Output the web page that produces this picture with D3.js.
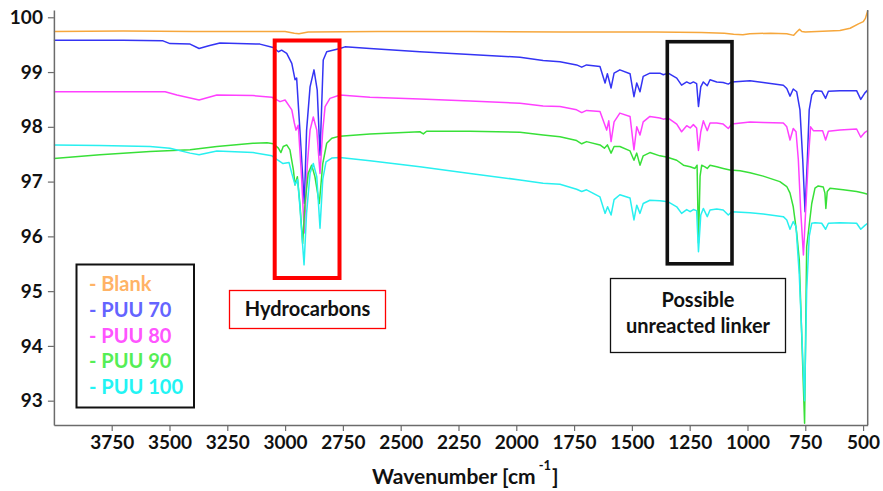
<!DOCTYPE html>
<html>
<head>
<meta charset="utf-8">
<script src="https://cdn.jsdelivr.net/npm/d3@7"></script>
<style>
  html, body { margin: 0; padding: 0; background: #fff; }
  svg { display: block; }
  text { font-family: Lato, "Open Sans", "Liberation Sans", sans-serif; font-weight: 700; }
</style>
</head>
<body>
<svg id="chart" width="883" height="491"></svg>
<script>
// ---- Data (wavenumber cm-1, transmittance %) ----
const seriesNames = ["Blank", "PUU 70", "PUU 80", "PUU 90", "PUU 100"];
const lineColors = ["#f6a73c", "#3434f4", "#ff40ff", "#38e038", "#28f0f0"];
const legendColors = ["#ffb366", "#6464ff", "#ff55ff", "#55ee55", "#22f4f4"];

const blank = [[4000,99.74],[3700,99.75],[3400,99.74],[3100,99.74],[3000,99.74],[2960,99.71],[2940,99.70],[2900,99.73],[2600,99.74],[2200,99.74],[1800,99.73],[1400,99.73],[1200,99.72],[1100,99.71],[1060,99.69],[1020,99.68],[990,99.70],[900,99.71],[830,99.70],[800,99.67],[785,99.74],[775,99.78],[765,99.74],[750,99.73],[700,99.74],[600,99.76],[556,99.80],[520,99.88],[499,99.92],[490,99.98],[480,100.12]];

const puu70 = [[4000,99.58],[3700,99.58],[3528,99.57],[3498,99.52],[3411,99.51],[3372,99.43],[3330,99.48],[3282,99.53],[3109,99.51],[3052,99.45],[3029,99.37],[3015,99.40],[2993,99.34],[2971,99.16],[2957,98.86],[2950,98.89],[2936,97.94],[2917,96.60],[2907,97.94],[2892,98.73],[2875,99.04],[2861,98.67],[2849,97.48],[2835,99.22],[2820,99.37],[2763,99.43],[2741,99.46],[2633,99.43],[2417,99.37],[2200,99.32],[1984,99.27],[1884,99.21],[1811,99.19],[1739,99.13],[1717,99.09],[1696,99.13],[1638,99.10],[1616,98.80],[1606,98.97],[1590,98.71],[1577,98.98],[1552,99.04],[1508,98.97],[1491,98.55],[1479,98.80],[1465,98.64],[1451,98.92],[1422,98.98],[1379,98.98],[1364,98.95],[1343,98.98],[1306,98.89],[1285,98.76],[1263,98.82],[1248,98.79],[1234,98.82],[1220,98.79],[1212,98.37],[1202,98.73],[1191,98.82],[1174,98.75],[1162,98.86],[1133,98.82],[1105,98.81],[1083,98.78],[1068,98.82],[989,98.84],[932,98.81],[845,98.76],[830,98.70],[816,98.56],[802,98.69],[787,98.64],[773,98.31],[761,97.40],[751,96.45],[741,97.40],[733,98.31],[722,98.58],[708,98.66],[679,98.65],[662,98.52],[650,98.65],[600,98.66],[528,98.66],[510,98.50],[492,98.62],[480,98.67]];

const puu80 = [[4000,98.64],[3700,98.64],[3519,98.64],[3468,98.58],[3372,98.49],[3295,98.58],[3139,98.57],[3057,98.54],[3022,98.46],[3000,98.49],[2971,98.31],[2960,98.07],[2953,97.94],[2943,98.03],[2928,97.03],[2917,96.06],[2904,97.30],[2892,97.94],[2878,98.18],[2863,97.94],[2849,97.15],[2837,97.94],[2827,98.37],[2806,98.52],[2763,98.58],[2633,98.54],[2417,98.51],[2200,98.47],[1984,98.43],[1884,98.38],[1811,98.37],[1739,98.31],[1717,98.26],[1696,98.30],[1638,98.28],[1609,97.94],[1600,98.11],[1590,97.73],[1577,98.09],[1552,98.25],[1508,98.19],[1491,97.58],[1479,98.00],[1465,97.85],[1451,98.09],[1422,98.19],[1379,98.16],[1364,98.14],[1343,98.16],[1306,98.05],[1285,97.91],[1263,98.02],[1248,97.98],[1234,98.04],[1220,97.98],[1212,97.57],[1202,97.91],[1191,98.11],[1174,97.93],[1162,98.07],[1133,98.07],[1105,98.05],[1083,97.97],[1068,98.05],[989,98.09],[932,98.08],[845,98.07],[830,98.00],[816,97.76],[802,97.97],[790,97.91],[780,97.40],[770,96.48],[758,95.66],[748,96.50],[737,97.40],[727,98.00],[715,97.93],[701,97.93],[675,97.93],[662,97.76],[650,97.92],[600,97.94],[528,97.96],[510,97.81],[492,97.90],[480,97.93]];

const puu90 = [[4000,97.42],[3801,97.49],[3584,97.55],[3411,97.58],[3295,97.64],[3139,97.70],[3078,97.71],[3051,97.69],[3029,97.61],[3018,97.53],[3008,97.64],[2993,97.67],[2979,97.58],[2964,97.21],[2957,96.94],[2947,97.09],[2936,96.60],[2924,95.87],[2914,96.60],[2900,97.15],[2885,97.30],[2871,97.09],[2852,96.60],[2837,97.33],[2820,97.70],[2798,97.79],[2763,97.83],[2633,97.87],[2417,97.91],[2402,97.87],[2388,97.92],[2200,97.92],[1984,97.90],[1884,97.85],[1811,97.82],[1739,97.75],[1717,97.69],[1696,97.73],[1638,97.67],[1619,97.61],[1606,97.67],[1590,97.52],[1577,97.64],[1552,97.64],[1508,97.56],[1491,97.39],[1479,97.52],[1465,97.30],[1451,97.47],[1422,97.53],[1379,97.47],[1350,97.45],[1306,97.39],[1277,97.30],[1248,97.27],[1227,97.24],[1218,97.30],[1212,95.88],[1205,97.10],[1198,97.30],[1184,97.27],[1174,97.24],[1162,97.30],[1133,97.27],[1105,97.24],[1076,97.21],[1032,97.20],[989,97.16],[932,97.10],[860,97.00],[830,96.91],[816,96.79],[802,96.54],[787,96.06],[776,95.57],[753,92.59],[744,95.81],[722,96.60],[708,96.88],[694,96.92],[672,96.90],[665,96.79],[661,96.51],[655,96.82],[643,96.88],[586,96.85],[528,96.82],[499,96.79],[480,96.77]];

const puu100 = [[4000,97.67],[3801,97.66],[3584,97.64],[3498,97.61],[3411,97.52],[3372,97.49],[3295,97.56],[3139,97.53],[3057,97.47],[3031,97.39],[3009,97.33],[2983,97.35],[2971,97.15],[2957,96.94],[2946,97.04],[2936,96.54],[2918,95.48],[2907,96.43],[2892,97.15],[2878,97.33],[2863,97.09],[2849,96.15],[2837,97.04],[2823,97.36],[2798,97.43],[2763,97.44],[2633,97.38],[2417,97.27],[2200,97.15],[1984,97.03],[1884,96.97],[1811,96.95],[1739,96.86],[1717,96.82],[1696,96.85],[1638,96.72],[1616,96.42],[1605,96.54],[1590,96.39],[1577,96.67],[1552,96.76],[1508,96.70],[1491,96.30],[1479,96.57],[1465,96.42],[1451,96.60],[1422,96.66],[1379,96.65],[1343,96.63],[1306,96.54],[1285,96.42],[1263,96.49],[1248,96.45],[1234,96.49],[1220,96.47],[1212,95.72],[1202,96.39],[1191,96.51],[1174,96.36],[1162,96.48],[1133,96.50],[1105,96.48],[1083,96.39],[1068,96.45],[989,96.43],[932,96.41],[845,96.36],[830,96.30],[816,96.13],[802,96.27],[790,96.18],[776,95.30],[753,93.00],[744,95.00],[733,96.00],[722,96.24],[708,96.25],[679,96.24],[662,96.13],[650,96.24],[600,96.25],[528,96.24],[510,96.13],[492,96.20],[480,96.24]];

const allSeries = [blank, puu70, puu80, puu90, puu100];
const xTicks = [3750, 3500, 3250, 3000, 2750, 2500, 2250, 2000, 1750, 1500, 1250, 1000, 750, 500];
const yTicks = [93, 94, 95, 96, 97, 98, 99, 100];
const xDomain = [4000, 480];
const yDomain = [92.556, 100.133];

// ---- Chart ----
const svg = d3.select("#chart");
const x = d3.scaleLinear().domain(xDomain).range([53.9, 867.7]);
const y = d3.scaleLinear().domain(yDomain).range([425, 10]);
const axisColor = "#6b6b6b";

// Lines
const line = d3.line().x(d => x(d[0])).y(d => y(d[1]));
svg.append("g").selectAll("path").data(allSeries).join("path")
  .attr("d", line)
  .attr("fill", "none")
  .attr("stroke", (d, i) => lineColors[i])
  .attr("stroke-width", 1.5)
  .attr("stroke-linejoin", "round");

// X axis
const gx = svg.append("g").attr("transform", "translate(0,425)")
  .call(d3.axisBottom(x).tickValues(xTicks).tickFormat(d3.format("d")).tickSize(6).tickSizeOuter(0).tickPadding(5));
gx.select(".domain").attr("stroke", axisColor).attr("stroke-width", 1.5);
gx.selectAll(".tick line").attr("stroke", axisColor).attr("stroke-width", 1.2);
gx.selectAll(".tick text").attr("font-size", 19).attr("fill", "#111")
  .attr("font-family", "Lato, sans-serif").attr("font-weight", 700);

// Y axis
const gy = svg.append("g").attr("transform", "translate(53.9,0)")
  .call(d3.axisLeft(y).tickValues(yTicks).tickFormat(d3.format("d")).tickSize(6).tickSizeOuter(0).tickPadding(5));
gy.select(".domain").attr("stroke", axisColor).attr("stroke-width", 1.5);
gy.selectAll(".tick line").attr("stroke", axisColor).attr("stroke-width", 1.2);
gy.selectAll(".tick text").attr("font-size", 19).attr("fill", "#111")
  .attr("font-family", "Lato, sans-serif").attr("font-weight", 700);

// Right border
svg.append("line").attr("x1", x(xDomain[1])).attr("x2", x(xDomain[1]))
  .attr("y1", y(yDomain[1])).attr("y2", y(yDomain[0]))
  .attr("stroke", axisColor).attr("stroke-width", 1.5);

// X axis title
const title = svg.append("text").attr("x", 372).attr("y", 484).attr("font-size", 21).attr("fill", "#111");
title.append("tspan").text("Wavenumber [cm");
title.append("tspan").attr("dx", 3).attr("dy", -14).attr("font-size", 13).text("-1");
title.append("tspan").attr("dx", 1).attr("dy", 14).text("]");

// Annotation boxes
svg.append("rect").attr("x", 274.7).attr("y", 40.5).attr("width", 64.8).attr("height", 237.5)
  .attr("fill", "none").attr("stroke", "#ff0000").attr("stroke-width", 4);
svg.append("rect").attr("x", 667.3).attr("y", 41.7).attr("width", 64.7).attr("height", 222.1)
  .attr("fill", "none").attr("stroke", "#111").attr("stroke-width", 3.6);

// Label boxes
svg.append("rect").attr("x", 229.5).attr("y", 290.5).attr("width", 156).attr("height", 38)
  .attr("fill", "#fff").attr("stroke", "#ff0000").attr("stroke-width", 1.3);
svg.append("text").attr("x", 307.5).attr("y", 316).attr("text-anchor", "middle")
  .attr("font-size", 20).attr("fill", "#111").text("Hydrocarbons");

svg.append("rect").attr("x", 610.5).attr("y", 278.5).attr("width", 175).attr("height", 74)
  .attr("fill", "#fff").attr("stroke", "#111").attr("stroke-width", 1.3);
svg.append("text").attr("x", 698).attr("y", 307).attr("text-anchor", "middle")
  .attr("font-size", 20).attr("fill", "#111").text("Possible");
svg.append("text").attr("x", 698).attr("y", 333).attr("text-anchor", "middle")
  .attr("font-size", 20).attr("fill", "#111").text("unreacted linker");

// Legend
svg.append("rect").attr("x", 76.5).attr("y", 264.5).attr("width", 117.5).attr("height", 143)
  .attr("fill", "#fff").attr("stroke", "#111").attr("stroke-width", 2);
svg.append("g").selectAll("text").data(seriesNames).join("text")
  .attr("x", 89).attr("y", (d, i) => 291 + i * 25.8)
  .attr("font-size", 20).attr("fill", (d, i) => legendColors[i])
  .text(d => "- " + d);
</script>
</body>
</html>
